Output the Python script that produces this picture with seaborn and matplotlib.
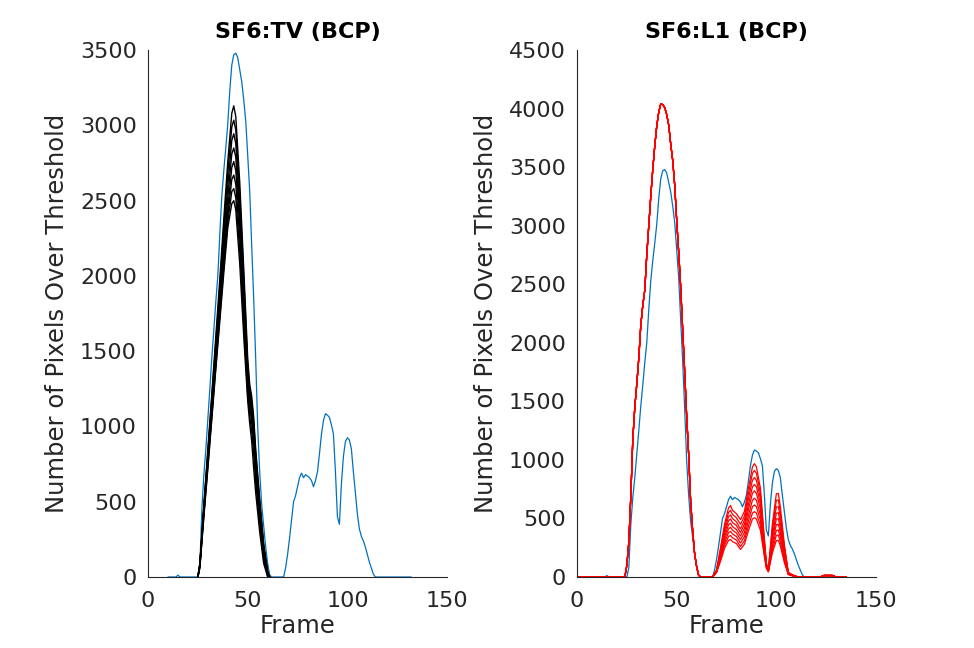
import matplotlib
matplotlib.use("Agg")
import matplotlib.pyplot as plt
import seaborn as sns

# ===============================
# style
# ===============================
sns.set_style("white")
plt.rcParams['font.family'] = ['DejaVu Sans']

BLUE = '#0072BD'
AXC = '#262626'

# ===============================
# data
# ===============================
# reference curve (same in both panels)
blue_frames = [10, 14, 15, 16, 25, 26, 27, 28, 29, 30, 31, 32, 33, 34, 35, 36, 37, 38, 39, 40,
               41, 42, 43, 44, 45, 46, 47, 48, 49, 50, 51, 52, 53, 54, 55, 56, 57, 58, 59, 60,
               61, 62, 68, 69, 70, 71, 72, 73, 74, 75, 76, 77, 78, 79, 80, 81, 82, 83, 84, 85,
               86, 87, 88, 89, 90, 91, 92, 93, 94, 95, 96, 97, 98, 99, 100, 101, 102, 103, 104, 105,
               106, 107, 108, 109, 110, 111, 112, 113, 114, 132]
blue_values = [0, 0, 12, 0, 0, 80, 450, 680, 850, 1050, 1250, 1460, 1640, 1830, 2000, 2280, 2530, 2700, 2850, 3010,
               3230, 3400, 3470, 3480, 3450, 3370, 3290, 3170, 3030, 2800, 2560, 2200, 1850, 1450, 1000, 700, 480, 340, 200, 90,
               15, 0, 0, 60, 150, 260, 380, 500, 540, 600, 660, 690, 660, 680, 670, 660, 640, 600, 640, 700,
               820, 950, 1040, 1085, 1075, 1060, 1010, 950, 700, 400, 350, 620, 800, 900, 925, 910, 850, 700, 560, 420,
               320, 270, 240, 200, 150, 100, 60, 20, 0, 0]

# SF6:TV curves
black_frames = [25, 26, 28, 30, 32, 34, 36, 38, 40, 42, 43, 44, 46, 48, 49, 50, 51, 52, 53, 54, 56, 58, 60, 61]
black_1 = [0, 90, 480, 850, 1220, 1600, 1980, 2380, 2760, 3080, 3130, 3060, 2620, 2050, 1750, 1450, 1280, 1200, 1060, 850, 520, 220, 40, 0]
black_2 = [0, 88, 470, 830, 1190, 1560, 1930, 2320, 2680, 2990, 3035, 2970, 2550, 1990, 1700, 1400, 1250, 1170, 1030, 820, 500, 210, 35, 0]
black_3 = [0, 85, 460, 810, 1165, 1525, 1890, 2260, 2600, 2900, 2945, 2880, 2480, 1930, 1650, 1370, 1220, 1140, 1000, 790, 480, 195, 30, 0]
black_4 = [0, 82, 450, 790, 1140, 1490, 1845, 2200, 2520, 2810, 2850, 2790, 2400, 1870, 1600, 1330, 1190, 1110, 970, 760, 460, 180, 25, 0]
black_5 = [0, 78, 440, 775, 1115, 1455, 1800, 2150, 2450, 2720, 2760, 2700, 2330, 1810, 1550, 1300, 1160, 1070, 930, 730, 430, 160, 20, 0]
black_6 = [0, 72, 425, 755, 1090, 1425, 1760, 2100, 2400, 2640, 2670, 2610, 2250, 1750, 1500, 1260, 1120, 1030, 890, 690, 400, 140, 10, 0]
black_7 = [0, 66, 412, 737, 1070, 1400, 1730, 2060, 2360, 2560, 2580, 2520, 2170, 1680, 1440, 1210, 1070, 970, 820, 630, 350, 115, 5, 0]
black_8 = [0, 60, 400, 720, 1050, 1380, 1700, 2020, 2320, 2480, 2500, 2440, 2080, 1600, 1380, 1170, 1020, 900, 720, 560, 300, 90, 0, 0]
black_curves = [black_1, black_2, black_3, black_4, black_5, black_6, black_7, black_8]

# SF6:L1 curves: main hump is common, later humps differ
red_main_frames = [0, 24, 25, 26, 27, 28, 29, 30, 31, 32, 33, 34, 35, 36, 37, 38, 39, 40, 41, 42,
                   43, 44, 45, 46, 47, 48, 49, 50, 51, 52, 53, 54, 55, 56, 57, 58, 59, 60, 61, 62]
red_main = [0, 0, 100, 300, 690, 1180, 1450, 1650, 1870, 2150, 2320, 2450, 2750, 3000, 3250, 3480, 3680, 3850, 3970, 4040,
            4035, 4010, 3950, 3860, 3700, 3560, 3350, 3050, 2780, 2480, 2120, 1760, 1380, 1050, 650, 400, 200, 90, 15, 0]
red_tail_frames = [68, 70, 72, 74, 76, 77, 78, 80, 82, 84, 86, 88, 89, 90, 92, 94, 95, 96, 98, 100,
                   101, 102, 104, 106, 108, 110, 112, 122, 124, 128, 130, 135]
red_tail_1 = [0, 60, 250, 450, 590, 610, 570, 540, 490, 560, 760, 940, 968, 940, 760, 330, 120, 60, 450, 710, 714, 600, 280, 40, 20, 5, 0, 0, 15, 15, 0, 0]
red_tail_2 = [0, 55, 235, 420, 550, 570, 535, 505, 450, 520, 715, 885, 910, 885, 715, 310, 110, 55, 415, 655, 657, 555, 260, 38, 18, 5, 0, 0, 15, 15, 0, 0]
red_tail_3 = [0, 52, 220, 395, 515, 530, 500, 470, 410, 485, 670, 825, 850, 825, 670, 290, 105, 55, 385, 598, 600, 510, 240, 35, 16, 5, 0, 0, 14, 14, 0, 0]
red_tail_4 = [0, 50, 205, 370, 480, 495, 465, 440, 380, 450, 620, 770, 790, 770, 625, 270, 100, 55, 350, 545, 549, 465, 220, 32, 15, 4, 0, 0, 13, 13, 0, 0]
red_tail_5 = [0, 48, 190, 345, 445, 460, 430, 405, 350, 415, 575, 715, 735, 715, 580, 250, 95, 50, 320, 495, 498, 420, 200, 30, 14, 4, 0, 0, 12, 12, 0, 0]
red_tail_6 = [0, 45, 175, 320, 410, 425, 400, 375, 320, 380, 525, 655, 672, 655, 530, 230, 90, 50, 290, 447, 450, 380, 180, 28, 13, 4, 0, 0, 12, 12, 0, 0]
red_tail_7 = [0, 42, 160, 295, 378, 390, 368, 345, 290, 345, 480, 600, 615, 600, 485, 210, 85, 50, 260, 398, 401, 340, 160, 25, 12, 3, 0, 0, 11, 11, 0, 0]
red_tail_8 = [0, 40, 148, 270, 345, 355, 335, 315, 260, 310, 435, 545, 558, 545, 440, 190, 80, 45, 230, 355, 358, 300, 140, 22, 10, 3, 0, 0, 10, 10, 0, 0]
red_tail_9 = [0, 38, 135, 245, 312, 320, 302, 285, 235, 280, 395, 495, 506, 495, 400, 175, 75, 45, 205, 311, 313, 265, 125, 20, 10, 3, 0, 0, 10, 10, 0, 0]
red_tails = [red_tail_1, red_tail_2, red_tail_3, red_tail_4, red_tail_5, red_tail_6, red_tail_7, red_tail_8, red_tail_9]

titles = ['SF6:TV (BCP)', 'SF6:L1 (BCP)']
y_limits = [3500, 4500]

# ===============================
# figure
# ===============================
fig = plt.figure(figsize=(9.74, 6.48), dpi=100)
ax1 = fig.add_axes([0.152, 0.1096, 0.307, 0.813])
ax2 = fig.add_axes([0.5924, 0.1096, 0.307, 0.813])

# left panel
sns.lineplot(x=blue_frames, y=blue_values, ax=ax1, color=BLUE, linewidth=0.9)
for c in black_curves:
    sns.lineplot(x=black_frames, y=c, ax=ax1, color='black', linewidth=1.0)

# right panel
sns.lineplot(x=blue_frames, y=blue_values, ax=ax2, color=BLUE, linewidth=0.9)
for t in red_tails:
    sns.lineplot(x=red_main_frames + red_tail_frames, y=red_main + t, ax=ax2,
                 color='red', linewidth=0.9)

for ax, title, ymax in zip([ax1, ax2], titles, y_limits):
    ax.set_xlim(0, 150)
    ax.set_ylim(0, ymax)
    ax.set_xticks([0, 50, 100, 150])
    ax.set_yticks(range(0, ymax + 1, 500))
    ax.spines['top'].set_visible(False)
    ax.spines['right'].set_visible(False)
    for s in ['left', 'bottom']:
        ax.spines[s].set_color(AXC)
        ax.spines[s].set_linewidth(0.8)
    ax.tick_params(direction='in', length=5, width=0.8, colors=AXC, labelsize=16,
                   labelcolor=AXC)
    ax.tick_params(axis='x', pad=10)
    ax.tick_params(axis='y', pad=8)
    ax.set_xlabel('Frame', fontsize=17.5, color=AXC, labelpad=2)
    ax.set_ylabel('Number of Pixels Over Threshold', fontsize=17.5, color=AXC, labelpad=8)
    ax.set_title(title, fontsize=16, fontweight='bold', color='black', pad=9)
    ax.grid(False)

fig.savefig('out.png', dpi=100)
